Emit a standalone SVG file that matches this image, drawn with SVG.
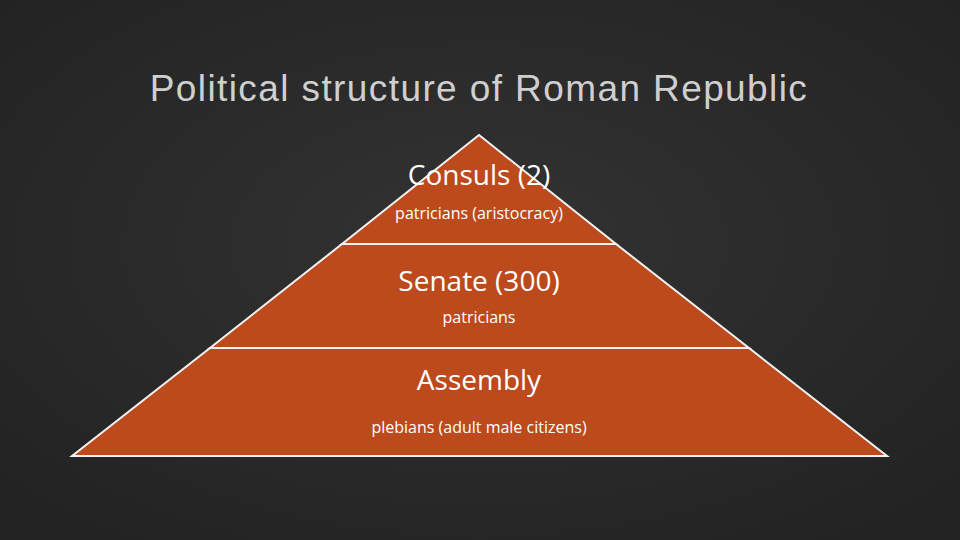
<svg xmlns="http://www.w3.org/2000/svg" width="960" height="540" viewBox="0 0 960 540">
<defs>
<radialGradient id="bg" cx="50%" cy="45%" r="70%"><stop offset="0" stop-color="#333333"/><stop offset="1" stop-color="#222222"/></radialGradient>
</defs>
<style>
.lvl{fill:#bc4a1c;stroke:#f2f2f2;stroke-width:2}
.big{font-family:"Open Sans","Liberation Sans",sans-serif;font-size:28px;fill:#ffffff;text-anchor:middle}
.small{font-family:"Open Sans","Liberation Sans",sans-serif;font-size:16px;fill:#ffffff;text-anchor:middle}
</style>
<rect width="960" height="540" fill="url(#bg)"/>
<text x="479" y="101" font-family="Liberation Sans, sans-serif" font-size="37" fill="#cfcfcf" text-anchor="middle" letter-spacing="1.4">Political structure of Roman Republic</text>
<g id="consuls">
<polygon class="lvl" points="479,135 342,244 616,244"/>
<text class="big" x="479" y="185">Consuls (2)</text>
<text class="small" x="479" y="219">patricians (aristocracy)</text>
</g>
<g id="senate">
<polygon class="lvl" points="342,244 616,244 749,348 210,348"/>
<text class="big" x="479" y="291">Senate (300)</text>
<text class="small" x="479" y="323">patricians</text>
</g>
<g id="assembly">
<polygon class="lvl" points="210,348 749,348 887,456 72,456"/>
<text class="big" x="479" y="390">Assembly</text>
<text class="small" x="479" y="433">plebians (adult male citizens)</text>
</g>
<g id="connectors"/>
</svg>
